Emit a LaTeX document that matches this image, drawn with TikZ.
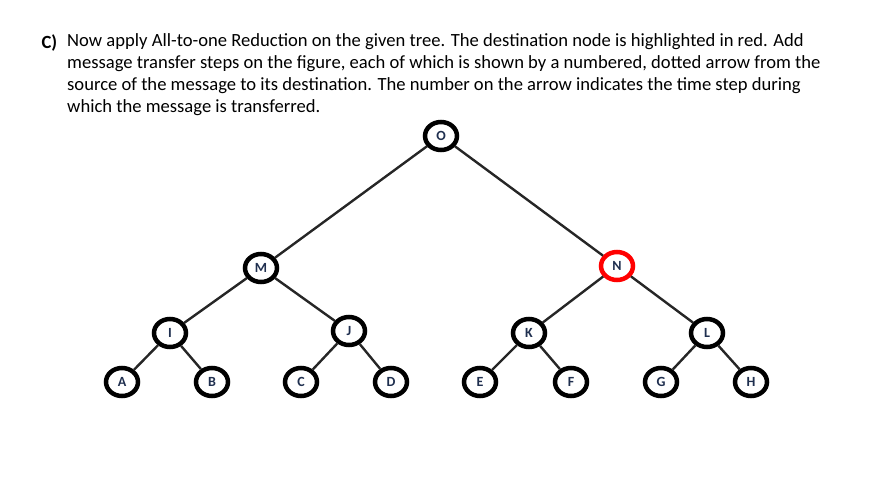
\documentclass[tikz,border=0pt]{standalone}
\usepackage{fontspec}
\setmainfont{Carlito}
\usetikzlibrary{shapes.geometric}
\definecolor{lblue}{HTML}{1F2F4F}
\begin{document}
\begin{tikzpicture}[x=1pt, y=-1pt,
    vtx/.style={draw, ellipse, line width=4.5pt, fill=white, minimum width=32pt, minimum height=28pt, inner sep=0pt, font=\fontsize{14}{14}\selectfont\bfseries, text=lblue},
    edge/.style={line width=2.4pt, black!85}]
    \useasboundingbox (0,0) rectangle (890,476);
    % task text
    \node[anchor=base west, font=\fontsize{18.6}{22}\selectfont\bfseries] (lbl) at (38,49) {C)};
    \node[anchor=north west, align=left, inner sep=0pt, font=\fontsize{18.6}{22}\selectfont] (txt) at (67,33)
    {Now apply All-to-one Reduction on the given tree. The destination node is highlighted in red. Add\\
     message transfer steps on the figure, each of which is shown by a numbered, dotted arrow from the\\
     source of the message to its destination. The number on the arrow indicates the time step during\\
     which the message is transferred.};
    % tree
    \node[vtx] (o) at (441,136) {O};
    \node[vtx] (m) at (261,268) {M};
    \node[vtx, draw=red] (n) at (617,266) {N};
    \node[vtx] (i) at (170,333) {I};
    \node[vtx] (j) at (349,331) {J};
    \node[vtx] (k) at (529,333) {K};
    \node[vtx] (l) at (707,333) {L};
    \node[vtx] (a) at (122,382) {A};
    \node[vtx] (b) at (212,382) {B};
    \node[vtx] (c) at (301,382) {C};
    \node[vtx] (d) at (391,382) {D};
    \node[vtx] (e) at (480,382) {E};
    \node[vtx] (f) at (571,382) {F};
    \node[vtx] (g) at (661,382) {G};
    \node[vtx] (h) at (751,382) {H};
    \foreach \p/\q in {o/m, o/n, m/i, m/j, n/k, n/l, i/a, i/b, j/c, j/d, k/e, k/f, l/g, l/h}
        \draw[edge] (\p) -- (\q);
\end{tikzpicture}
\end{document}
